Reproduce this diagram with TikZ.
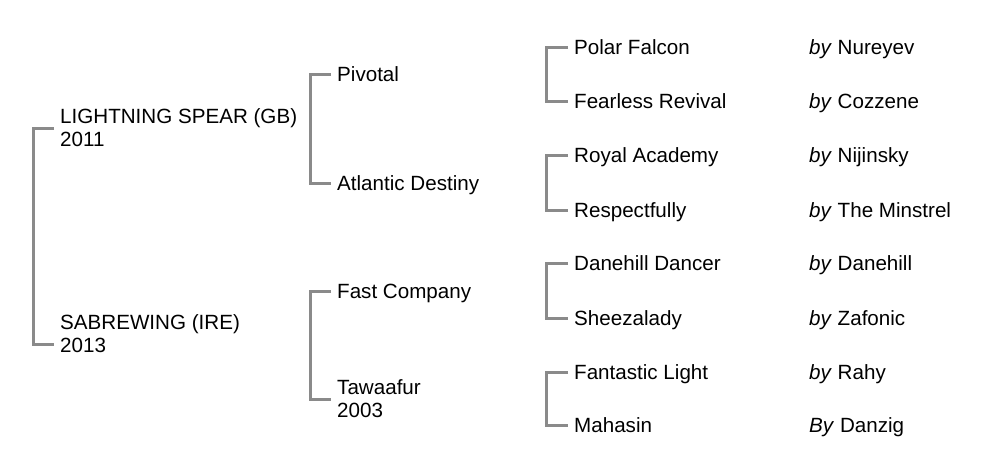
\documentclass[tikz,border=0pt]{standalone}
\usepackage{fontspec}
\setmainfont{Liberation Sans}
\usetikzlibrary{positioning}
\usepackage{xcolor}
\definecolor{linegrey}{HTML}{8A8A8A}
\definecolor{textblack}{HTML}{000000}

\begin{document}
\begin{tikzpicture}[
        x=1pt, y=-1pt,
        horse/.style={anchor=west, inner sep=3pt, align=left,
          text=textblack, font=\fontsize{20.6}{23}\selectfont},
        single/.style={horse, text height=15pt, text depth=0pt},
        sire/.style={single},
        bracket/.style={line width=3pt, draw=linegrey,
          shorten <=3pt, shorten >=3pt},
      ]
        \useasboundingbox (0,0) rectangle (990,463);

        \node[horse] (spear) at (57,128) {LIGHTNING SPEAR (GB)\\2011};
        \node[horse] (sabre) at (57,334) {SABREWING (IRE)\\2013};

        \node[single] (pivotal) at (334,74) {Pivotal};
        \node[single] (atlantic) at (334,183) {Atlantic Destiny};
        \node[single] (fastco) at (334,291) {Fast Company};
        \node[horse] (tawaafur) at (334,399) {Tawaafur\\2003};

        \node[single] (polar) at (571,47) {Polar Falcon};
        \node[single] (fearless) at (571,101) {Fearless Revival};
        \node[single] (royal) at (571,155) {Royal Academy};
        \node[single] (respect) at (571,210) {Respectfully};
        \node[single] (danehill) at (571,263) {Danehill Dancer};
        \node[single] (sheeza) at (571,318) {Sheezalady};
        \node[single] (fantastic) at (571,372) {Fantastic Light};
        \node[single] (mahasin) at (571,425) {Mahasin};

        \node[sire] (s1) at (806,47) {\textit{by} Nureyev};
        \node[sire] (s2) at (806,101) {\textit{by} Cozzene};
        \node[sire] (s3) at (806,155) {\textit{by} Nijinsky};
        \node[sire] (s4) at (806,210) {\textit{by} The Minstrel};
        \node[sire] (s5) at (806,263) {\textit{by} Danehill};
        \node[sire] (s6) at (806,318) {\textit{by} Zafonic};
        \node[sire] (s7) at (806,372) {\textit{by} Rahy};
        \node[sire] (s8) at (806,425) {\textit{By} Danzig};

        \draw[bracket] (spear.west) -- ++(-24,0) |- ([yshift=-10pt]sabre.west);
        \draw[bracket] (pivotal.west) -- ++(-24,0) |- (atlantic.west);
        \draw[bracket] (fastco.west) -- ++(-24,0) |- (tawaafur.west);
        \draw[bracket] (polar.west) -- ++(-25,0) |- (fearless.west);
        \draw[bracket] (royal.west) -- ++(-25,0) |- (respect.west);
        \draw[bracket] (danehill.west) -- ++(-25,0) |- (sheeza.west);
        \draw[bracket] (fantastic.west) -- ++(-25,0) |- (mahasin.west);
      \end{tikzpicture}
\end{document}
